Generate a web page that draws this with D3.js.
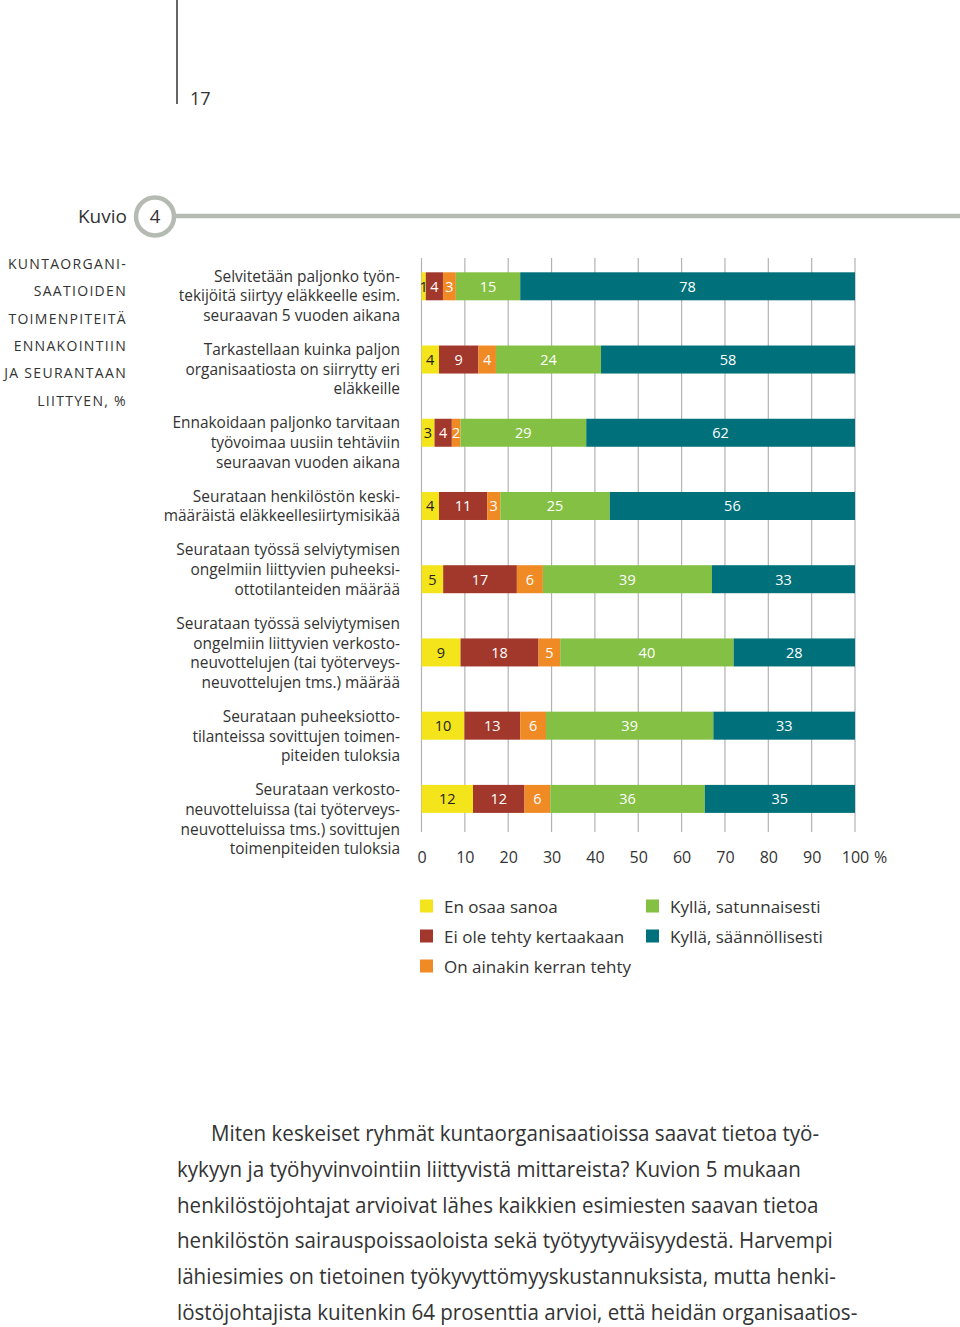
<!DOCTYPE html>
<html>
<head>
<meta charset="utf-8">
<script src="https://cdn.jsdelivr.net/npm/d3@7/dist/d3.min.js"></script>
<style>
  html, body { margin: 0; padding: 0; background: #fff; }
  svg { display: block; }
  text { font-family: "Open Sans", "Noto Sans", sans-serif; }
</style>
</head>
<body>
<svg id="chart" width="960" height="1327"></svg>
<script>
// ---------- DATA ----------
const categories = [
  ["Selvitetään paljonko työn-", "tekijöitä siirtyy eläkkeelle esim.", "seuraavan 5 vuoden aikana"],
  ["Tarkastellaan kuinka paljon", "organisaatiosta on siirrytty eri", "eläkkeille"],
  ["Ennakoidaan paljonko tarvitaan", "työvoimaa uusiin tehtäviin", "seuraavan vuoden aikana"],
  ["Seurataan henkilöstön keski-", "määräistä eläkkeellesiirtymisikää"],
  ["Seurataan työssä selviytymisen", "ongelmiin liittyvien puheeksi-", "ottotilanteiden määrää"],
  ["Seurataan työssä selviytymisen", "ongelmiin liittyvien verkosto-", "neuvottelujen (tai työterveys-", "neuvottelujen tms.) määrää"],
  ["Seurataan puheeksiotto-", "tilanteissa sovittujen toimen-", "piteiden tuloksia"],
  ["Seurataan verkosto-", "neuvotteluissa (tai työterveys-", "neuvotteluissa tms.) sovittujen", "toimenpiteiden tuloksia"]
];
const seriesNames = ["En osaa sanoa", "Ei ole tehty kertaakaan", "On ainakin kerran tehty", "Kyllä, satunnaisesti", "Kyllä, säännöllisesti"];
const enOsaaSanoa   = [1, 4, 3, 4, 5, 9, 10, 12];
const eiOleTehty    = [4, 9, 4, 11, 17, 18, 13, 12];
const ainakinKerran = [3, 4, 2, 3, 6, 5, 6, 6];
const satunnaisesti = [15, 24, 29, 25, 39, 40, 39, 36];
const saannollisesti = [78, 58, 62, 56, 33, 28, 33, 35];
const xTicks = [0, 10, 20, 30, 40, 50, 60, 70, 80, 90, 100];
const seriesColors = ["#f3e41c", "#a1382b", "#ef8a25", "#84c043", "#00707a"];
const titleLines = ["KUNTAORGANI-", "SAATIOIDEN", "TOIMENPITEITÄ", "ENNAKOINTIIN", "JA SEURANTAAN", "LIITTYEN, %"];
const bodyLines = [
  "Miten keskeiset ryhmät kuntaorganisaatioissa saavat tietoa työ-",
  "kykyyn ja työhyvinvointiin liittyvistä mittareista? Kuvion 5 mukaan",
  "henkilöstöjohtajat arvioivat lähes kaikkien esimiesten saavan tietoa",
  "henkilöstön sairauspoissaoloista sekä työtyytyväisyydestä. Harvempi",
  "lähiesimies on tietoinen työkyvyttömyyskustannuksista, mutta henki-",
  "löstöjohtajista kuitenkin 64 prosenttia arvioi, että heidän organisaatios-"
];

// ---------- SETUP ----------
const svg = d3.select("#chart");
const textColor = "#333";
const series = [enOsaaSanoa, eiOleTehty, ainakinKerran, satunnaisesti, saannollisesti];
const rows = categories.map((c, i) => {
  const vals = series.map(s => s[i]);
  const total = d3.sum(vals);
  let cum = 0;
  return vals.map((v, k) => {
    const seg = { cat: i, k, v, x0: cum / total * 100, x1: (cum + v) / total * 100 };
    cum += v;
    return seg;
  });
});

// condense text horizontally by a uniform factor (reference font is narrower)
function condense(sel, f) {
  sel.each(function () {
    const w = this.getComputedTextLength();
    d3.select(this).attr("textLength", w * f).attr("lengthAdjust", "spacingAndGlyphs");
  });
}

const x = d3.scaleLinear().domain([0, 100]).range([421.5, 855]);
const y = d3.scalePoint().domain(d3.range(categories.length)).range([286.3, 798.9]);
const barH = 28;

// ---------- PAGE HEADER ----------
svg.append("line").attr("x1", 177).attr("x2", 177).attr("y1", 0).attr("y2", 104)
  .attr("stroke", "#333").attr("stroke-width", 1.5);
svg.append("text").attr("x", 190).attr("y", 105).attr("font-size", 18).attr("fill", textColor).text("17");

// Kuvio header
svg.append("line").attr("x1", 175).attr("x2", 960).attr("y1", 216).attr("y2", 216)
  .attr("stroke", "#b5bab2").attr("stroke-width", 4.5);
svg.append("circle").attr("cx", 155).attr("cy", 216.5).attr("r", 19)
  .attr("fill", "#fff").attr("stroke", "#b5bab2").attr("stroke-width", 4.5);
svg.append("text").attr("x", 155).attr("y", 223).attr("text-anchor", "middle")
  .attr("font-size", 18.5).attr("fill", textColor).text("4");
svg.append("text").attr("x", 127).attr("y", 223).attr("text-anchor", "end")
  .attr("font-size", 19).attr("fill", textColor).text("Kuvio");

// Left title
svg.append("g").selectAll("text").data(titleLines).join("text")
  .attr("x", 127).attr("y", (d, i) => 269 + i * 27.3)
  .attr("text-anchor", "end").attr("font-size", 14).attr("letter-spacing", 1.3)
  .attr("fill", textColor).text(d => d);

// ---------- GRID ----------
const grid = svg.append("g");
grid.selectAll("line").data(xTicks).join("line")
  .attr("x1", d => x(d)).attr("x2", d => x(d))
  .attr("y1", 258).attr("y2", 832)
  .attr("stroke", "#b3b3b3").attr("stroke-width", 1.2);

// Axis labels
const axis = svg.append("g").attr("transform", "translate(0,832)")
  .call(d3.axisBottom(x).tickValues(xTicks).tickSize(0).tickPadding(0).tickFormat(d3.format("d")));
axis.select(".domain").remove();
axis.selectAll("text").attr("dy", 0).attr("y", 31).attr("font-size", 16)
  .attr("font-family", "'Open Sans', sans-serif").attr("fill", textColor);
svg.append("text").attr("x", 874).attr("y", 863).attr("font-size", 16).attr("fill", textColor).text("%");

// ---------- BARS ----------
const barG = svg.append("g");
rows.forEach((segs, i) => {
  const g = barG.append("g");
  g.selectAll("rect").data(segs).join("rect")
    .attr("x", d => x(d.x0)).attr("width", d => x(d.x1) - x(d.x0))
    .attr("y", y(i) - barH / 2).attr("height", barH)
    .attr("fill", d => seriesColors[d.k]);
  g.selectAll("text").data(segs).join("text")
    .attr("x", d => (x(d.x0) + x(d.x1)) / 2)
    .attr("y", y(i) + 5.5)
    .attr("text-anchor", "middle").attr("font-size", 14.5)
    .attr("fill", d => d.k === 0 ? "#222" : "#fff")
    .text(d => d.v);
});

// ---------- CATEGORY LABELS ----------
const lineH = 19.7, paraGap = 34;
let cy = 276;
const labG = svg.append("g");
categories.forEach((lines, i) => {
  lines.forEach((ln, j) => {
    labG.append("text").attr("x", 400).attr("y", cy + 5.5)
      .attr("text-anchor", "end").attr("font-size", 16).attr("fill", textColor).text(ln);
    if (j < lines.length - 1) cy += lineH;
  });
  cy += paraGap;
});
condense(labG.selectAll("text"), 0.965);

// ---------- LEGEND ----------
const legPos = [[420, 906], [420, 936], [420, 966], [646, 906], [646, 936]];
const leg = svg.append("g").selectAll("g").data(seriesNames).join("g")
  .attr("transform", (d, i) => `translate(${legPos[i][0]},${legPos[i][1]})`);
leg.append("rect").attr("x", 0).attr("y", -6.5).attr("width", 13).attr("height", 13)
  .attr("fill", (d, i) => seriesColors[i]);
leg.append("text").attr("x", 24).attr("y", 6.5).attr("font-size", 17).attr("fill", textColor).text(d => d);

// ---------- BODY TEXT ----------
const body = svg.append("g").selectAll("text").data(bodyLines).join("text")
  .attr("x", (d, i) => i === 0 ? 211 : 177)
  .attr("y", (d, i) => 1141 + i * 35.8)
  .attr("font-size", 22).attr("fill", textColor).text(d => d);
condense(body, 0.935);
</script>
</body>
</html>
